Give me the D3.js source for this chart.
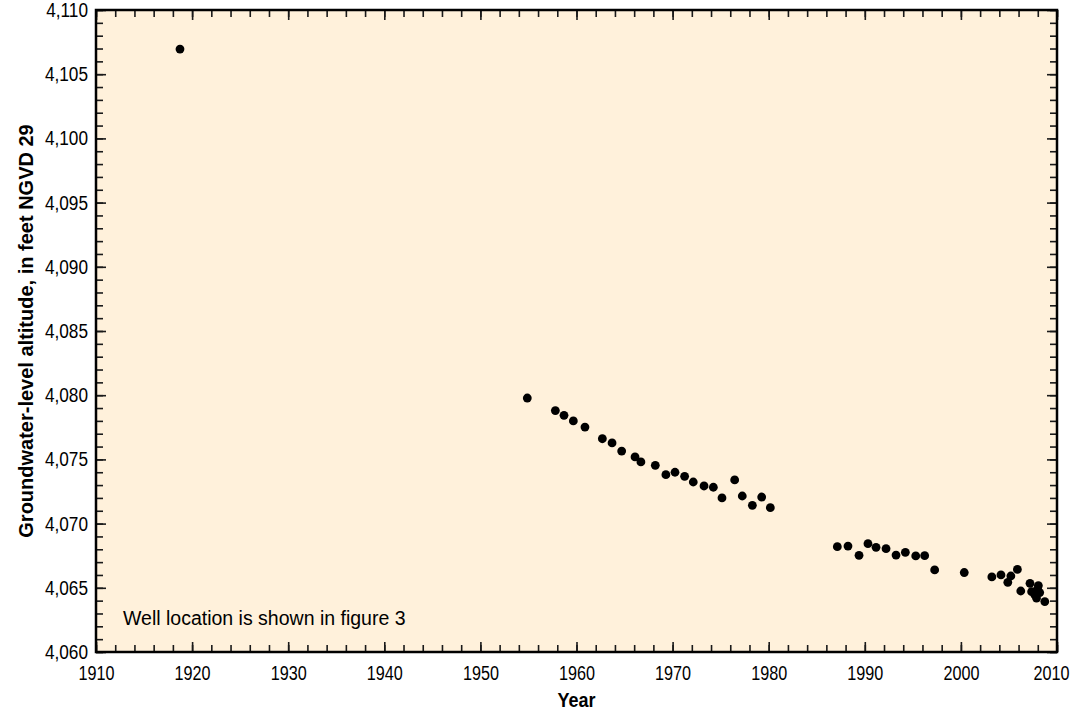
<!DOCTYPE html>
<html>
<head>
<meta charset="utf-8">
<script src="https://cdn.jsdelivr.net/npm/d3@7"></script>
<style>
  body { margin: 0; background: #fff; }
  .chart text { font-family: "Liberation Sans", Arial, sans-serif; fill: #000; }
</style>
</head>
<body>
<div class="chart"></div>
<script>
var years = [
  1918.74,
  1954.88, 1957.8, 1958.7, 1959.67, 1960.88, 1962.69, 1963.7, 1964.7, 1966.09, 1966.7,
  1968.2, 1969.3, 1970.25, 1971.25, 1972.15, 1973.27, 1974.24, 1975.14, 1976.46, 1977.25,
  1978.3, 1979.27, 1980.17,
  1987.14, 1988.25, 1989.4, 1990.33, 1991.17, 1992.21, 1993.25, 1994.22, 1995.3, 1996.23, 1997.27,
  2000.35, 2003.22, 2004.17, 2004.88, 2005.2, 2005.88, 2006.23, 2007.19, 2007.36, 2007.7,
  2007.87, 2007.98, 2008.06, 2008.2, 2008.73
];
var levels = [
  4106.96,
  4079.78, 4078.8, 4078.43, 4078.0, 4077.52, 4076.61, 4076.28, 4075.65, 4075.19, 4074.8,
  4074.54, 4073.81, 4074.0, 4073.68, 4073.24, 4072.93, 4072.83, 4072.0, 4073.4, 4072.15,
  4071.42, 4072.07, 4071.24,
  4068.2, 4068.25, 4067.53, 4068.44, 4068.15, 4068.05, 4067.55, 4067.76, 4067.48, 4067.5, 4066.39,
  4066.19, 4065.85, 4066.0, 4065.43, 4065.92, 4066.43, 4064.75, 4065.35, 4064.7, 4064.44,
  4064.2, 4064.9, 4065.17, 4064.63, 4063.93
];

var xMajor = d3.range(1910, 2011, 10);
var xMinor = d3.range(1910, 2011, 2);
var yMajor = d3.range(4060, 4111, 5);
var yMinor = d3.range(4060, 4111, 1);

var yTitle = "Groundwater-level altitude, in feet NGVD 29";
var xTitle = "Year";
var note = "Well location is shown in figure 3";

var svgWidth = 1075;
var svgHeight = 715;

var margin = { top: 10, right: 18, bottom: 63, left: 96 };

var width = svgWidth - margin.left - margin.right;
var height = svgHeight - margin.top - margin.bottom;

var svg = d3.select(".chart")
  .append("svg")
  .attr("width", svgWidth)
  .attr("height", svgHeight);

var chartGroup = svg.append("g")
  .attr("transform", `translate(${margin.left}, ${margin.top})`);

var xScale = d3.scaleLinear().domain([1910, 2010]).range([0, width]);
var yScale = d3.scaleLinear().domain([4060, 4110]).range([height, 0]);

// plot background
chartGroup.append("rect")
  .attr("width", width)
  .attr("height", height)
  .attr("fill", "#fff1db");

// squeeze text horizontally to look like a condensed face
function condense(sel, k) {
  sel.each(function() {
    var len = this.getComputedTextLength();
    if (len > 0) {
      d3.select(this).attr("textLength", len * k).attr("lengthAdjust", "spacingAndGlyphs");
    }
  });
}

// ticks point inward on all four sides
function styleAxis(g, k) {
  g.select(".domain").remove();
  g.selectAll(".tick line").attr("stroke", "#1a1a1a").attr("stroke-width", 1.6);
  g.selectAll("text")
    .attr("font-size", null)
    .style("font-size", "20.5px")
    .style("font-family", "'Liberation Sans', Arial, sans-serif");
  condense(g.selectAll("text"), k || 0.82);
}

var noLabel = function() { return ""; };

// bottom
chartGroup.append("g").attr("transform", `translate(0, ${height})`)
  .call(d3.axisBottom(xScale).tickValues(xMinor).tickSize(-7).tickFormat(noLabel)).call(styleAxis);
var bottomMajor = chartGroup.append("g").attr("transform", `translate(0, ${height})`)
  .call(d3.axisBottom(xScale).tickValues(xMajor).tickSize(-10).tickPadding(13).tickFormat(d3.format("d")))
  .call(styleAxis, 0.79);
// last year label sits a little left of its tick, as in the source figure
bottomMajor.selectAll(".tick text").filter(d => d === 2010).attr("dx", -6);

// top
chartGroup.append("g")
  .call(d3.axisTop(xScale).tickValues(xMinor).tickSize(-7).tickFormat(noLabel)).call(styleAxis);
chartGroup.append("g")
  .call(d3.axisTop(xScale).tickValues(xMajor).tickSize(-10).tickFormat(noLabel)).call(styleAxis);
// left
chartGroup.append("g")
  .call(d3.axisLeft(yScale).tickValues(yMinor).tickSize(-7).tickFormat(noLabel)).call(styleAxis);
chartGroup.append("g")
  .call(d3.axisLeft(yScale).tickValues(yMajor).tickSize(-10).tickPadding(8).tickFormat(d3.format(",")))
  .call(styleAxis, 0.84);
// right
chartGroup.append("g").attr("transform", `translate(${width}, 0)`)
  .call(d3.axisRight(yScale).tickValues(yMinor).tickSize(-7).tickFormat(noLabel)).call(styleAxis);
chartGroup.append("g").attr("transform", `translate(${width}, 0)`)
  .call(d3.axisRight(yScale).tickValues(yMajor).tickSize(-10).tickFormat(noLabel)).call(styleAxis);

// frame
chartGroup.append("rect")
  .attr("width", width)
  .attr("height", height)
  .attr("fill", "none")
  .attr("stroke", "#000")
  .attr("stroke-width", 2.5);

// points
var points = years.map(function(y, i) { return { year: y, level: levels[i] }; });

chartGroup.selectAll("circle")
  .data(points)
  .enter()
  .append("circle")
  .attr("cx", d => xScale(d.year))
  .attr("cy", d => yScale(d.level))
  .attr("r", 4.4)
  .attr("fill", "#000");

// note inside plot
chartGroup.append("text")
  .attr("x", 27)
  .attr("y", height - 27)
  .style("font-size", "19.5px")
  .text(note);

// axis titles
chartGroup.append("text")
  .attr("transform", `translate(${-margin.left + 33}, ${height / 2}) rotate(-90)`)
  .attr("text-anchor", "middle")
  .style("font-size", "20px")
  .style("font-weight", "bold")
  .text(yTitle);

chartGroup.append("text")
  .attr("x", width / 2)
  .attr("y", height + 55)
  .attr("text-anchor", "middle")
  .style("font-size", "20px")
  .style("font-weight", "bold")
  .text(xTitle)
  .call(condense, 0.9);
</script>
</body>
</html>
